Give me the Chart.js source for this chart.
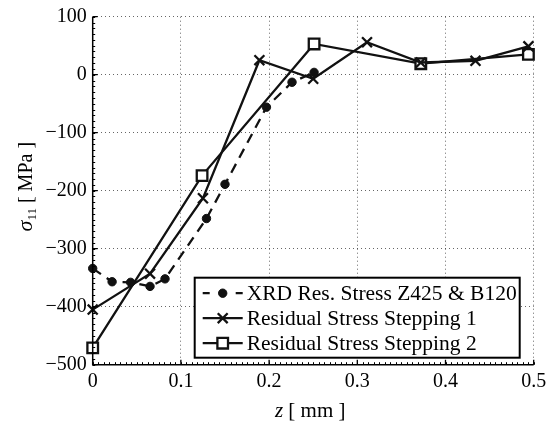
<!DOCTYPE html>
<html>
<head>
<meta charset="utf-8">
<script src="https://cdn.jsdelivr.net/npm/chart.js@4/dist/chart.umd.min.js"></script>
<style>
  html, body { margin: 0; padding: 0; background: #fff; }
  #wrap { width: 546px; height: 426px; }
</style>
</head>
<body>
<div id="wrap"><canvas id="stressChart" width="546" height="426"></canvas></div>
<script>
// depth z [mm] and sigma_11 [MPa]
const xrdZ = [0, 0.022, 0.043, 0.065, 0.082, 0.129, 0.150, 0.197, 0.226, 0.251];
const xrdStress = [-334, -357, -358, -365, -352, -248, -189, -56, -13, 4];

const step1Z = [0, 0.065, 0.125, 0.189, 0.250, 0.311, 0.372, 0.434, 0.494];
const step1Stress = [-405, -343, -213, 25, -7, 56, 21, 24, 49];

const step2Z = [0, 0.124, 0.251, 0.372, 0.494];
const step2Stress = [-471, -174, 53, 19, 35];

const seriesLabels = [
  'XRD Res. Stress Z425 & B120',
  'Residual Stress Stepping 1',
  'Residual Stress Stepping 2'
];

const xTicks = [0, 0.1, 0.2, 0.3, 0.4, 0.5];
const yTicks = [100, 0, -100, -200, -300, -400, -500];

const SERIF = '"Liberation Serif", "Times New Roman", serif';
const INK = '#111';

function toPoints(xs, ys) {
  return xs.map((x, i) => ({ x: x, y: ys[i] }));
}

// draws a run of text pieces with mixed fonts, centred on the origin
function drawParts(ctx, parts) {
  let total = 0;
  parts.forEach(p => { ctx.font = p.font; p.w = ctx.measureText(p.text).width; total += p.w; });
  let cx = -total / 2;
  parts.forEach(p => {
    ctx.font = p.font;
    ctx.fillText(p.text, cx, p.dy || 0);
    cx += p.w;
  });
}

// Matlab-like frame: solid axes, inward ticks, minor ticks, boxed legend, titles
const matlabFrame = {
  id: 'matlabFrame',
  afterDraw(chart) {
    const { ctx, chartArea: a, scales: { x, y } } = chart;
    ctx.save();
    ctx.strokeStyle = '#000';
    ctx.fillStyle = '#000';

    // minor ticks
    ctx.lineWidth = 1;
    ctx.beginPath();
    for (let i = 0; i <= 80; i++) {
      const px = Math.round(x.getPixelForValue(i * 0.00625)) + 0.5;
      ctx.moveTo(px, a.bottom); ctx.lineTo(px, a.bottom - 2.5);
    }
    for (let i = 0; i <= 60; i++) {
      const py = Math.round(y.getPixelForValue(-500 + i * 10)) + 0.5;
      ctx.moveTo(a.left, py); ctx.lineTo(a.left + 2.5, py);
    }
    ctx.stroke();

    // major ticks
    ctx.lineWidth = 1.3;
    ctx.beginPath();
    xTicks.forEach(v => {
      const px = x.getPixelForValue(v);
      ctx.moveTo(px, a.bottom); ctx.lineTo(px, a.bottom - 5);
    });
    yTicks.forEach(v => {
      const py = y.getPixelForValue(v);
      ctx.moveTo(a.left, py); ctx.lineTo(a.left + 5, py);
    });
    ctx.stroke();

    // axis lines
    ctx.lineWidth = 1.5;
    ctx.beginPath();
    ctx.moveTo(a.left, a.top); ctx.lineTo(a.left, a.bottom); ctx.lineTo(a.right, a.bottom);
    ctx.stroke();

    // legend box
    const box = { left: a.left + 102, top: a.bottom - 87, right: a.right - 14, bottom: a.bottom - 7 };
    ctx.fillStyle = '#fff';
    ctx.fillRect(box.left, box.top, box.right - box.left, box.bottom - box.top);
    ctx.lineWidth = 2;
    ctx.strokeStyle = '#000';
    ctx.strokeRect(box.left, box.top, box.right - box.left, box.bottom - box.top);

    chart.data.datasets.forEach((ds, i) => {
      const rowY = box.top + 15.5 + i * 25;
      const sx = box.left + 8;
      const ex = sx + 40;
      const mx = (sx + ex) / 2;
      ctx.strokeStyle = INK;
      ctx.lineWidth = ds.borderWidth;
      ctx.beginPath();
      if (ds.borderDash && ds.borderDash.length) {
        ctx.moveTo(sx, rowY); ctx.lineTo(sx + 7, rowY);
        ctx.moveTo(ex - 7, rowY); ctx.lineTo(ex, rowY);
      } else {
        ctx.moveTo(sx, rowY); ctx.lineTo(ex, rowY);
      }
      ctx.stroke();
      ctx.fillStyle = ds.pointBackgroundColor;
      ctx.strokeStyle = ds.pointBorderColor;
      ctx.lineWidth = ds.pointBorderWidth;
      Chart.helpers.drawPoint(ctx, {
        pointStyle: ds.pointStyle,
        radius: ds.pointRadius,
        rotation: 0,
        borderWidth: ds.pointBorderWidth
      }, mx, rowY);
      ctx.fillStyle = '#000';
      ctx.font = '21.5px ' + SERIF;
      ctx.textAlign = 'left';
      ctx.textBaseline = 'middle';
      ctx.fillText(ds.label, ex + 4, rowY + 1);
    });

    // axis titles
    ctx.fillStyle = '#000';
    ctx.textAlign = 'left';
    ctx.textBaseline = 'alphabetic';
    ctx.save();
    ctx.translate(a.left - 68, (a.top + a.bottom) / 2 - 4);
    ctx.rotate(-Math.PI / 2);
    ctx.translate(0, 7);
    drawParts(ctx, [
      { text: '\u03c3', font: 'italic 22px ' + SERIF },
      { text: '11', font: '13px ' + SERIF, dy: 4 },
      { text: ' [ MPa ]', font: '20px ' + SERIF }
    ]);
    ctx.restore();

    ctx.save();
    ctx.translate((a.left + a.right) / 2 - 3, a.bottom + 52);
    drawParts(ctx, [
      { text: 'z', font: 'italic 21px ' + SERIF },
      { text: ' [ mm ]', font: '21px ' + SERIF }
    ]);
    ctx.restore();

    ctx.restore();
  }
};

const gridStyle = { color: 'rgba(0,0,0,0.6)', lineWidth: 1, drawTicks: false };
const borderStyle = { display: false, dash: [1, 3] };

new Chart(document.getElementById('stressChart'), {
  type: 'scatter',
  data: {
    datasets: [
      {
        label: seriesLabels[0],
        data: toPoints(xrdZ, xrdStress),
        showLine: true,
        borderColor: INK,
        borderWidth: 2.3,
        borderDash: [10, 7],
        pointStyle: 'circle',
        pointRadius: 4.2,
        pointBackgroundColor: INK,
        pointBorderColor: INK,
        pointBorderWidth: 1,
        clip: false
      },
      {
        label: seriesLabels[1],
        data: toPoints(step1Z, step1Stress),
        showLine: true,
        borderColor: INK,
        borderWidth: 2.3,
        pointStyle: 'crossRot',
        pointRadius: 7,
        pointBackgroundColor: INK,
        pointBorderColor: INK,
        pointBorderWidth: 2.3,
        clip: false
      },
      {
        label: seriesLabels[2],
        data: toPoints(step2Z, step2Stress),
        showLine: true,
        borderColor: INK,
        borderWidth: 2.3,
        pointStyle: 'rect',
        pointRadius: 7.5,
        pointBackgroundColor: '#fff',
        pointBorderColor: INK,
        pointBorderWidth: 2.3,
        clip: false
      }
    ]
  },
  options: {
    responsive: false,
    devicePixelRatio: 1,
    animation: false,
    layout: { padding: { left: 0, right: 12.3, top: 16.7, bottom: 0 } },
    plugins: {
      legend: { display: false },
      tooltip: { enabled: false }
    },
    scales: {
      x: {
        type: 'linear',
        min: 0,
        max: 0.5,
        grid: gridStyle,
        border: borderStyle,
        afterBuildTicks: s => { s.ticks = xTicks.map(v => ({ value: v })); },
        ticks: {
          color: '#000',
          padding: 5,
          maxRotation: 0,
          font: { family: SERIF, size: 20 },
          callback: v => (v === 0 ? '0' : (Math.round(v * 10) / 10).toFixed(1))
        },
        afterFit: s => { s.height = 61.3; s.paddingLeft = 0; s.paddingRight = 0; }
      },
      y: {
        type: 'linear',
        min: -500,
        max: 100,
        grid: gridStyle,
        border: borderStyle,
        afterBuildTicks: s => { s.ticks = yTicks.map(v => ({ value: v })); },
        ticks: {
          color: '#000',
          padding: 6,
          font: { family: SERIF, size: 20 },
          callback: v => (v < 0 ? '\u2212' + Math.abs(v) : String(v))
        },
        afterFit: s => { s.width = 92.7; s.paddingTop = 0; s.paddingBottom = 0; }
      }
    }
  },
  plugins: [matlabFrame]
});
</script>
</body>
</html>
